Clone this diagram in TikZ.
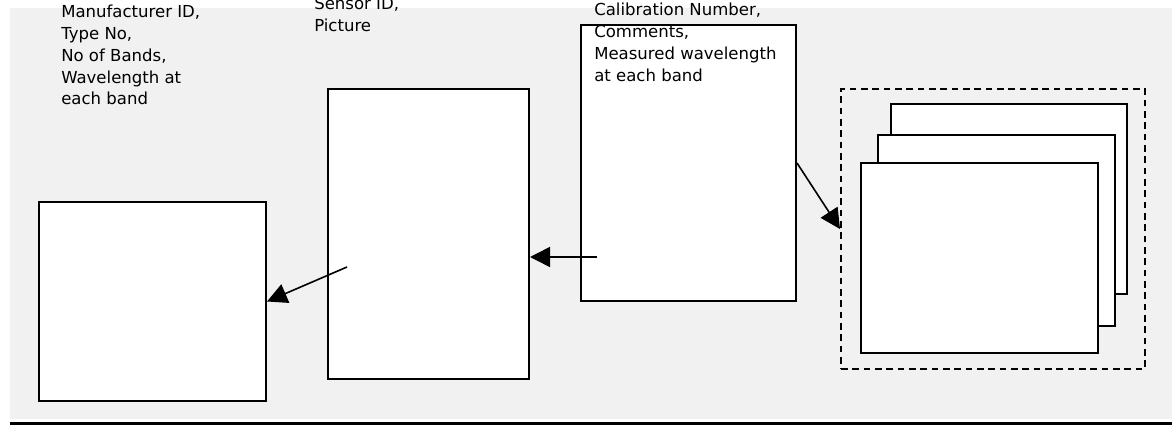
\documentclass[tikz,border=0pt]{standalone}
\usepackage{fontspec}
\setmainfont{DejaVu Sans}
\usetikzlibrary{arrows.meta,fit}
\definecolor{bggray}{HTML}{F1F1F1}
\tikzset{box/.style={draw=black,line width=1.5pt,fill=white,inner sep=0pt}}
\tikzset{dashbox/.style={draw=black,line width=1.5pt,dash pattern=on 5pt off 3.5pt,inner sep=0pt}}
\tikzset{txt/.style={align=left,anchor=north west,inner sep=0pt,font=\fontsize{12.4pt}{16.3pt}\selectfont}}
\tikzset{arr/.style={line width=1.2pt,-{Triangle[length=15pt,width=15pt]}}}

\begin{document}
\begin{tikzpicture}[x=0.75pt,y=-0.75pt]
\useasboundingbox (0,0) rectangle (1175,428);
\fill[bggray] (10,8) rectangle (1172,419);
\draw[line width=2.2pt] (10,423.5) -- (1172,423.5);

\node[box,fit={(39,202) (266,401)}] (sensor) {};
\node[box,fit={(328,89) (529,379)}] (instance) {};
\node[box,fit={(581,25) (796,301)}] (calib) {};

\node[dashbox,fit={(841,89) (1145,369)}] (stack) {};
\node[box,fit={(891,104) (1127,294)}] (page3) {};
\node[box,fit={(878,135) (1115,326)}] (page2) {};
\node[box,fit={(861,163) (1098,353)}] (page1) {};

\node[txt] (typetext) at (61,5) {Manufacturer ID,\\Type No,\\No of Bands,\\Wavelength at\\each band};
\node[txt] (insttext) at (314,-3) {Sensor ID,\\Picture};
\node[txt] (calibtext) at (594,3) {Calibration Number,\\Comments,\\Measured wavelength\\at each band};

\coordinate (fromInst) at (347,267);
\coordinate (fromCalib) at (597,257);
\draw[arr] (fromInst) -- (sensor.east);
\draw[arr] (fromCalib) -- (fromCalib -| instance.east);
\draw[arr] (calib.east) -- (stack.west);
\end{tikzpicture}
\end{document}
